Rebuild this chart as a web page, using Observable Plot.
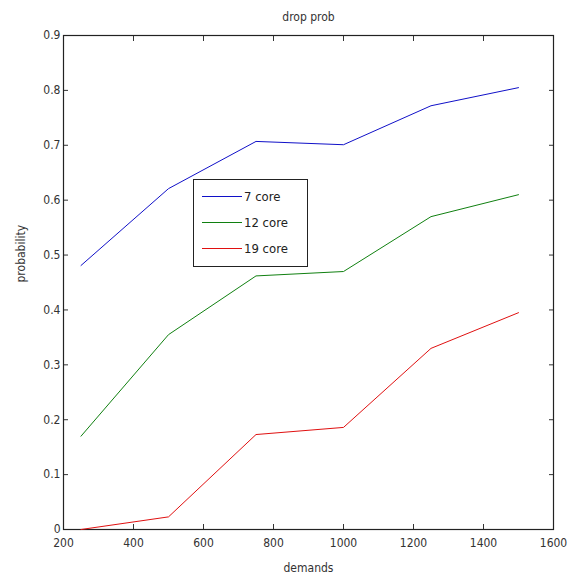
<!DOCTYPE html>
<html>
<head>
<meta charset="utf-8">
<script src="https://cdn.jsdelivr.net/npm/d3@7"></script>
<script src="https://cdn.jsdelivr.net/npm/@observablehq/plot@0.6"></script>
<style>
  html, body { margin: 0; padding: 0; background: #fff; }
  #wrap { position: relative; width: 580px; height: 580px; font-family: "DejaVu Sans Condensed", "DejaVu Sans", sans-serif; font-stretch: condensed; }
  #wrap svg text { font-stretch: condensed; }
  #legend { position: absolute; left: 193px; top: 179px; width: 115px; height: 88px; border: 1px solid #222; background: #fff; box-sizing: border-box; font-size: 13px; color: #222; }
  .item { position: absolute; left: 8px; height: 16px; display: flex; align-items: center; }
  .item span.sw { display: inline-block; width: 40px; height: 0; border-top: 1px solid; margin-right: 2px; }
</style>
</head>
<body>
<div id="wrap"></div>
<script>
const demands = [250, 500, 750, 1000, 1250, 1500];
const core7  = [0.481, 0.621, 0.707, 0.701, 0.772, 0.805];
const core12 = [0.170, 0.355, 0.462, 0.470, 0.570, 0.610];
const core19 = [0.000, 0.023, 0.173, 0.186, 0.330, 0.395];
const seriesNames = ["7 core", "12 core", "19 core"];
const seriesColors = ["#1010c8", "#108010", "#e01010"];
const xTicks = [200, 400, 600, 800, 1000, 1200, 1400, 1600];
const yTicks = [0, 0.1, 0.2, 0.3, 0.4, 0.5, 0.6, 0.7, 0.8, 0.9];

const allSeries = [core7, core12, core19];
const rows = [];
allSeries.forEach((vals, i) => vals.forEach((v, j) => rows.push({demand: demands[j], p: v, series: seriesNames[i]})));

const font = '"DejaVu Sans Condensed", "DejaVu Sans", sans-serif';

const chart = Plot.plot({
  width: 580,
  height: 580,
  marginLeft: 63,
  marginRight: 27,
  marginTop: 35,
  marginBottom: 51,
  style: {fontFamily: font, fontSize: "12px", color: "#333", background: "#fff"},
  x: {domain: [200, 1600], ticks: xTicks},
  y: {domain: [0, 0.9], ticks: yTicks},
  color: {domain: seriesNames, range: seriesColors},
  marks: [
    Plot.axisX({anchor: "bottom", ticks: xTicks, tickSize: -5, tickPadding: 14, tickFormat: d => String(d), label: null, stroke: "#333", fontSize: 12}),
    Plot.axisX({anchor: "top", ticks: xTicks, tickSize: -5, tickFormat: () => "", label: null, stroke: "#333"}),
    Plot.axisY({anchor: "left", ticks: yTicks, tickSize: -5, tickPadding: 8, tickFormat: d => d === 0 ? "0" : d3.format(".1f")(d), label: null, stroke: "#333", fontSize: 12}),
    Plot.axisY({anchor: "right", ticks: yTicks, tickSize: -5, tickFormat: () => "", label: null, stroke: "#333"}),
    Plot.frame({stroke: "#222", strokeWidth: 1.2}),
    Plot.line(rows, {x: "demand", y: "p", z: "series", stroke: "series", strokeWidth: 1}),
    Plot.text(["drop prob"], {frameAnchor: "top", dy: -23, fontSize: 12, fill: "#333"}),
    Plot.text(["demands"], {frameAnchor: "bottom", dy: 42, fontSize: 12, fill: "#333"}),
    Plot.text(["probability"], {frameAnchor: "left", dx: -42, rotate: -90, fontSize: 12, fill: "#333"})
  ]
});

const wrap = document.getElementById("wrap");
wrap.appendChild(chart);

const legend = document.createElement("div");
legend.id = "legend";
seriesNames.forEach((name, i) => {
  const it = document.createElement("div");
  it.className = "item";
  it.style.top = (8 + i * 26) + "px";
  const sw = document.createElement("span");
  sw.className = "sw";
  sw.style.borderTopColor = seriesColors[i];
  it.appendChild(sw);
  it.appendChild(document.createTextNode(name));
  legend.appendChild(it);
});
wrap.appendChild(legend);
</script>
</body>
</html>
